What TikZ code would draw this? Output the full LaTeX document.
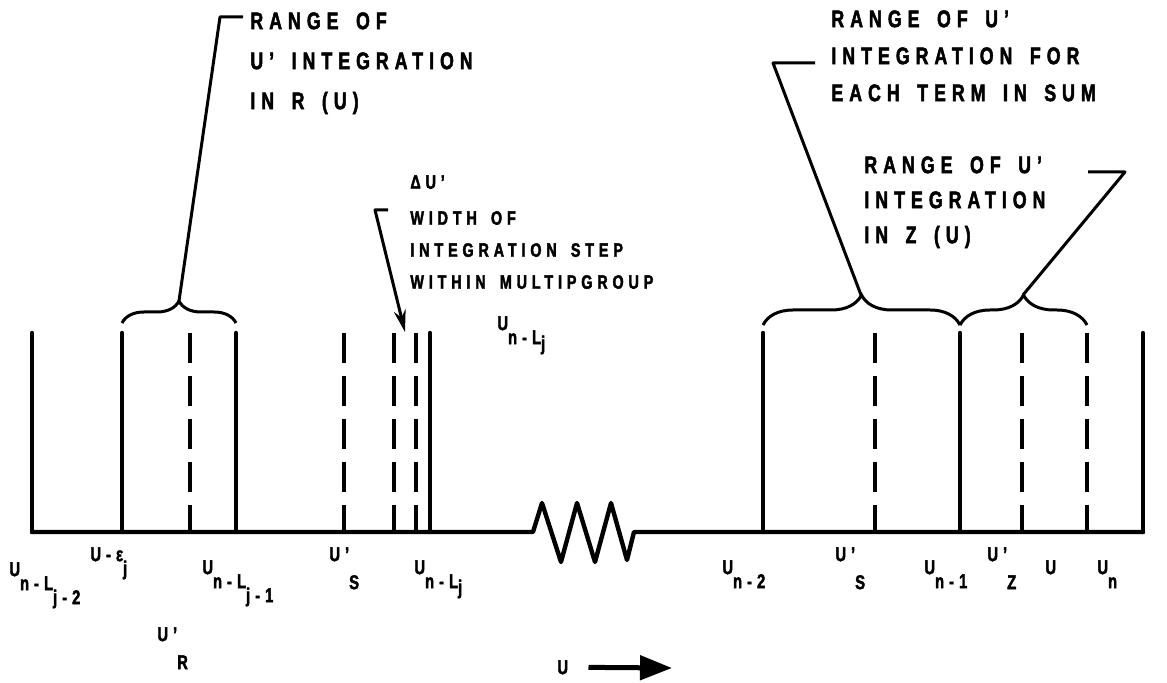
\documentclass[tikz,border=0pt]{standalone}
\usepackage{fontspec}
\setmainfont{Liberation Sans}[UprightFont=* Bold,FakeBold=2,FakeStretch=0.74,LetterSpace=25,WordSpace=1.6]
\usepackage{tikz}
\usetikzlibrary{positioning,arrows.meta,decorations.pathreplacing}

\newcommand{\lo}[1]{\raisebox{-7pt}{#1}}
\newcommand{\lox}[1]{\raisebox{-3pt}{#1}}
\newcommand{\loo}[1]{\raisebox{-14pt}{#1}}

\begin{document}
\begin{tikzpicture}[x=0.5pt, y=-0.5pt,
    axisln/.style={line width=2.2pt, line join=round, line cap=round},
    solidln/.style={line width=2.2pt, line cap=round},
    dashln/.style={line width=1.7pt, dash pattern=on 15pt off 6.5pt},
    brc/.style={line width=1.5pt, decorate},
    leader/.style={line width=1.5pt, line join=round},
    darr/.style={line width=1.5pt, line join=round, -{Stealth[length=11pt, width=6pt]}},
    uarr/.style={line width=2.5pt, -{Triangle[length=16pt, width=12pt]}},
    toptxt/.style={font=\fontsize{12}{20}\selectfont, align=left, inner sep=0pt, anchor=north west},
    midtxt/.style={font=\fontsize{9.7}{16}\selectfont, align=left, inner sep=0pt, anchor=north west},
    blab/.style={font=\fontsize{10}{10}\selectfont, inner sep=0pt, anchor=north west},
]
\useasboundingbox (0,0) rectangle (1167,683);

% energy axis with the break
\draw[axisln] (32,532) -- (533,532) -- (542,503) -- (561,562) -- (577,503) -- (595,562)
    -- (611,503) -- (627,560) -- (634,532) -- (1143,532);

\foreach \x in {32,122,236,430,763,960,1143}
  \draw[solidln] (\x,532) -- (\x,333);
\foreach \x in {190,344,394,416,875,1022,1087}
  \draw[dashln] (\x,333) -- (\x,532);

% braces
\draw[brc, decoration={brace, amplitude=11pt}] (122,323) -- (236,323);
\draw[brc, decoration={brace, amplitude=15pt}] (763,325) -- (960,325);
\draw[brc, decoration={brace, amplitude=15pt}] (960,325) -- (1087,325);
\coordinate (tipR) at (179,301);
\coordinate (tipS) at (861,295);
\coordinate (tipZ) at (1023,295);

% notes
\node[toptxt] (noteR) at (250,12) {RANGE OF\\U' INTEGRATION\\IN R (U)};
\node[toptxt, font=\fontsize{12}{18.5}\selectfont] (noteS) at (831,10) {RANGE OF U'\\INTEGRATION FOR\\EACH TERM IN SUM};
\node[toptxt, font=\fontsize{12}{17.5}\selectfont] (noteZ) at (864,156) {RANGE OF U'\\INTEGRATION\\IN Z (U)};
\node[midtxt] (noteD) at (410,175) {ΔU'\\[2pt]WIDTH OF\\INTEGRATION STEP\\WITHIN MULTIPGROUP};
\node[blab] (unLjm) at (497,316) {U\lo{n-L\lox{j}}};

\coordinate (kR) at (220,17);
\coordinate (eR) at (243,17);
\coordinate (kS) at (773,63);
\coordinate (eS) at (815,63);
\coordinate (kZ) at (1125,172);
\coordinate (eZ) at (1088,172);
\coordinate (eD) at (388,210);
\coordinate (kD) at (375,210);
\coordinate (tipD) at (405,332);

\draw[leader] (tipR) -- (kR) -- (eR);
\draw[leader] (tipS) -- (kS) -- (eS);
\draw[leader] (tipZ) -- (kZ) -- (eZ);
\draw[darr] (eD) -- (kD) -- (tipD);

% labels under the axis
\node[blab] (unLj2) at (9,562) {U\lo{n-L\lo{j-2}}};
\node[blab] (ueps) at (90,547) {U-ε\lo{j}};
\node[blab] (unLj1) at (202,560) {U\lo{n-L\lo{j-1}}};
\node[blab] (usa) at (329,547) {U'\loo{S}};
\node[blab] (unLj) at (414,560) {U\lo{n-L\lox{j}}};
\node[blab] (ur) at (157,627) {U'\loo{R}};
\node[blab] (un2) at (722,560) {U\lo{n-2}};
\node[blab] (usb) at (835,547) {U'\loo{S}};
\node[blab] (un1) at (924,560) {U\lo{n-1}};
\node[blab] (uz) at (987,547) {U'\loo{Z}};
\node[blab] (uu) at (1045,560) {U};
\node[blab] (un) at (1097,560) {U\lo{n}};

\node[blab] (uax) at (557,660) {U};
\coordinate (axend) at (672,668);
\draw[uarr] ([xshift=10pt]uax.east) -- (axend);

\end{tikzpicture}
\end{document}
